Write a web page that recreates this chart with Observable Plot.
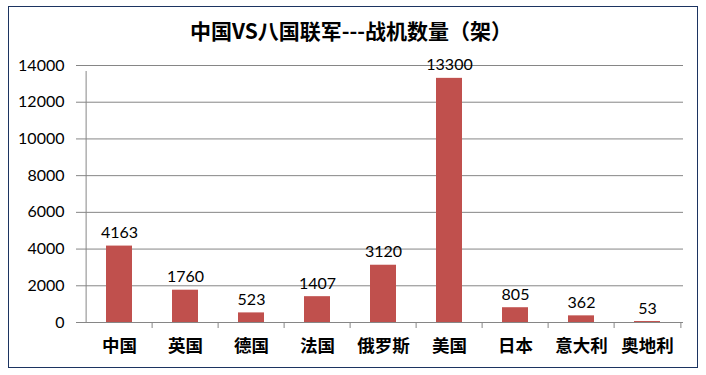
<!DOCTYPE html>
<html>
<head>
<meta charset="utf-8">
<script src="https://cdn.jsdelivr.net/npm/d3@7"></script>
<script src="https://cdn.jsdelivr.net/npm/@observablehq/plot@0.6"></script>
<style>
  html, body { margin: 0; padding: 0; background: #fff; }
  #wrap { position: relative; width: 706px; height: 375px; overflow: hidden; }
  #border { position: absolute; left: 8px; top: 6px; width: 690px; height: 362px; box-sizing: border-box; border: 1.5px solid #1c3461; pointer-events: none; }
  #title { position: absolute; left: 0; top: 15px; width: 702px; text-align: center; font-family: "Noto Sans CJK SC", sans-serif; font-weight: bold; font-size: 21px; line-height: 30px; color: #000; }
  #chart { position: absolute; left: 0; top: 0; }
</style>
</head>
<body>
<div id="wrap">
  <div id="chart"></div>
  <div id="title">中国VS八国联军---战机数量（架）</div>
  <div id="border"></div>
</div>
<script>
const countries = ["中国", "英国", "德国", "法国", "俄罗斯", "美国", "日本", "意大利", "奥地利"];
const planes = [4163, 1760, 523, 1407, 3120, 13300, 805, 362, 53];
const yTicks = [0, 2000, 4000, 6000, 8000, 10000, 12000, 14000];

const data = countries.map((c, i) => ({country: c, value: planes[i]}));

const W = 706, H = 375, mL = 82, mR = 23, mT = 65, mB = 53;
const bw = (W - mL - mR) / countries.length;
const numFont = "Lato, 'Open Sans', sans-serif";

const chart = Plot.plot({
  width: W,
  height: H,
  marginLeft: mL,
  marginRight: mR,
  marginTop: mT,
  marginBottom: mB,
  style: {background: "transparent", color: "#000", overflow: "visible"},
  x: {domain: countries, padding: 0},
  y: {domain: [0, 14000]},
  marks: [
    Plot.gridY(yTicks, {stroke: "#868686", strokeOpacity: 1, strokeWidth: 1}),
    Plot.axisY({ticks: yTicks, tickSize: 6, tickPadding: 12, stroke: "#868686", fontSize: 16, fontFamily: numFont, tickFormat: d => String(d), label: null}),
    Plot.ruleX([countries[0]], {dx: -bw / 2, y1: 0, y2: 14000, insetBottom: -6, stroke: "#868686"}),
    Plot.ruleX(countries.slice(1), {dx: -bw / 2, y1: 0, y2: 0, insetBottom: -6, stroke: "#868686"}),
    Plot.ruleX([countries[countries.length - 1]], {dx: bw / 2, y1: 0, y2: 0, insetBottom: -6, stroke: "#868686"}),
    Plot.barY(data, {x: "country", y: "value", fill: "#C0504D", insetLeft: 20, insetRight: 20}),
    Plot.text(data, {x: "country", y: "value", text: d => String(d.value), dy: -8, lineAnchor: "bottom", fontSize: 16, fontFamily: numFont, fill: "#000"}),
    Plot.axisX({tickSize: 0, tickPadding: 17, fontSize: 17.5, fontWeight: "bold", fontFamily: "'Noto Sans CJK SC', sans-serif", label: null})
  ]
});
document.getElementById("chart").appendChild(chart);
</script>
</body>
</html>
